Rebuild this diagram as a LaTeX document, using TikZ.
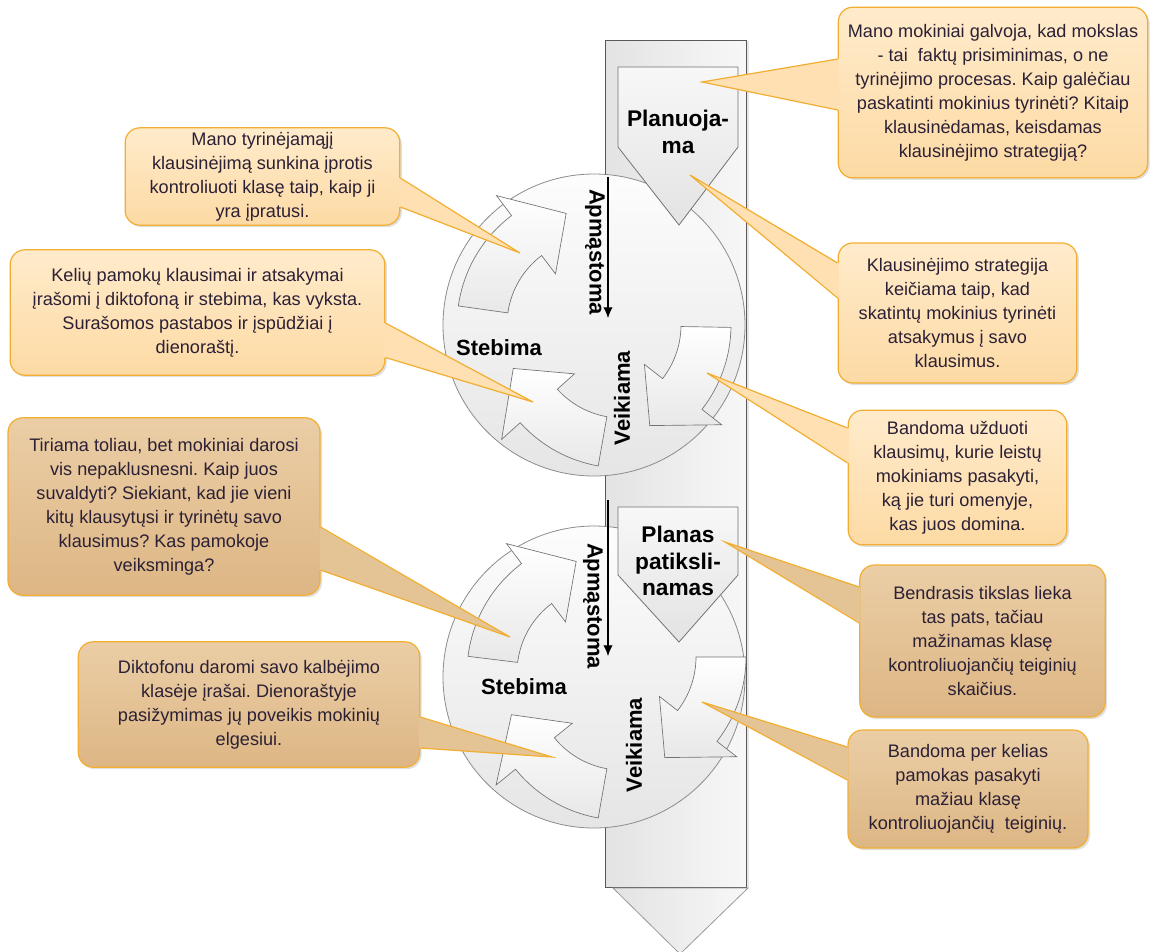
\documentclass[tikz,border=0pt]{standalone}
\usepackage{fontspec}
\setmainfont{Liberation Sans}
\usepackage{tikz}
\usetikzlibrary{positioning}
\usetikzlibrary{calc,shadows}
\usetikzlibrary{arrows.meta}
\definecolor{upTop}{HTML}{FFEBCB}
\definecolor{upBot}{HTML}{FDDAA4}
\definecolor{upPtr}{HTML}{FEE0B2}
\definecolor{loTop}{HTML}{EBCEA6}
\definecolor{loBot}{HTML}{DDB684}
\definecolor{loPtr}{HTML}{E4C394}
\definecolor{callEdge}{HTML}{F2AE30}
\definecolor{txtCol}{HTML}{2B2035}
\tikzset{>={Latex[length=8pt,width=7pt]}}
\tikzset{
  callout/.style={draw=callEdge, line width=0.9pt, rounded corners=11pt, align=center,
    inner sep=0pt, text=txtCol, font=\fontsize{13.6}{18}\selectfont,
    drop shadow={shadow xshift=1.5pt, shadow yshift=-1.5pt, opacity=0.25}},
  upcall/.style={callout, top color=upTop, bottom color=upBot},
  locall/.style={callout, top color=loTop, bottom color=loBot},
  pointer/.style={draw=callEdge, line width=0.9pt},
  lbl/.style={font=\fontsize{16.5}{20}\selectfont\bfseries, text=black},
  stagelbl/.style={font=\fontsize{17}{20}\selectfont\bfseries, text=black, align=center},
  shaft/.style={draw=black!65, line width=0.6pt, left color=black!11, right color=black!3},
  ringbg/.style={draw=black!45, line width=0.6pt, top color=black!1, bottom color=black!10},
  cycbody/.style={draw=black!55, line width=0.5pt, top color=white, bottom color=black!9},
  stage/.style={draw=black!55, line width=0.6pt, top color=black!3, bottom color=black!11},
  pics/cycarrow/.style 2 args={code={
    \draw[cycbody] (#1:137) arc[start angle=#1, end angle=#2, radius=137]
      -- (#2:162) -- ({#2-23}:115) -- (#2:64) -- (#2:87)
      arc[start angle=#2, end angle=#1, radius=87] -- cycle;
  }}
}

\begin{document}
\frenchspacing
\begin{tikzpicture}[x=0.75pt, y=-0.75pt]
\useasboundingbox (0,0) rectangle (1161,951);

% Big downward arrow
\draw[shaft, drop shadow={shadow xshift=2pt, shadow yshift=-1pt, opacity=0.2}] (605,40) rectangle (746,887);
\draw[shaft, draw=black!40] (613,888) -- (748,888) -- (680,954) -- cycle;

% Upper cycle
\coordinate (cU) at (594,325);
\draw[ringbg] (cU) circle (151);
\pic[yscale=-1] at (cU) {cycarrow={172}{127}};
\pic[yscale=-1] at (622,331) {cycarrow={260}{222}};
\pic[yscale=-1] at (cU) {cycarrow={-1}{-38}};

% Planning stage
\draw[stage] (618,67) -- (738,67) -- (738,147) -- (679,225) -- (618,147) -- cycle;
\node[stagelbl] (planU) at (678,132) {Planuoja-\\ma};

% Labels and arrow
\node[lbl, rotate=-90] (apmU) at (595,252) {Apmąstoma};
\node[lbl] (stebU) at (499,348) {Stebima};
\node[lbl, rotate=90] (veikU) at (622,398) {Veikiama};
\coordinate (aU1) at (608,177);
\coordinate (aU2) at (608,318);
\draw[->, line width=0.8pt] (aU1) -- (aU2);

% Lower cycle
\coordinate (cL) at (594,677);
\draw[ringbg] (cL) circle (151);
\pic[yscale=-1] at (604,673) {cycarrow={173}{127}};
\pic[yscale=-1] at (622,683) {cycarrow={260}{219}};
\pic[yscale=-1] at (609,657) {cycarrow={0}{-38}};

% Refined plan
\draw[stage] (618,507) -- (738,507) -- (738,575) -- (679,642) -- (618,575) -- cycle;
\node[stagelbl] (planL) at (678,561) {Planas\\patiksli-\\namas};

\node[lbl, rotate=-90] (apmL) at (593,606) {Apmąstoma};
\node[lbl] (stebL) at (524,687) {Stebima};
\node[lbl, rotate=90] (veikL) at (634,745) {Veikiama};
\coordinate (aL1) at (608,500);
\coordinate (aL2) at (608,656);
\draw[->, line width=0.8pt] (aL1) -- (aL2);

% Callouts, first cycle
\node[upcall, minimum width=232pt, minimum height=128pt] (mokslas) at (993,92.5)
  {Mano mokiniai galvoja, kad mokslas\\- tai\ \ faktų prisiminimas, o ne\\tyrinėjimo procesas. Kaip galėčiau\\paskatinti mokinius tyrinėti? Kitaip\\klausinėdamas, keisdamas\\klausinėjimo strategiją?};
\node[upcall, minimum width=206pt, minimum height=73pt] (iprotis) at (262.5,176.5)
  {Mano tyrinėjamąjį\\klausinėjimą sunkina įprotis\\kontroliuoti klasę taip, kaip ji\\yra įpratusi.};
\node[upcall, minimum width=281pt, minimum height=94pt] (keliu) at (197.5,312.5)
  {Kelių pamokų klausimai ir atsakymai\\įrašomi į diktofoną ir stebima, kas vyksta.\\Surašomos pastabos ir įspūdžiai į\\dienoraštį.};
\node[upcall, minimum width=179pt, minimum height=105pt] (strategija) at (957.5,313)
  {Klausinėjimo strategija\\keičiama taip, kad\\skatintų mokinius tyrinėti\\atsakymus į savo\\klausimus.};
\node[upcall, minimum width=164pt, minimum height=101pt] (uzduoti) at (957.5,477.5)
  {Bandoma užduoti\\klausimų, kurie leistų\\mokiniams pasakyti,\\ką jie turi omenyje,\\kas juos domina.};

% Callouts, second cycle
\node[locall, minimum width=234pt, minimum height=133pt] (toliau) at (164,506.5)
  {Tiriama toliau, bet mokiniai darosi\\vis nepaklusnesni. Kaip juos\\suvaldyti? Siekiant, kad jie vieni\\kitų klausytųsi ir tyrinėtų savo\\klausimus? Kas pamokoje\\veiksminga?};
\node[locall, minimum width=256pt, minimum height=94pt] (irasai) at (249,704.5)
  {Diktofonu daromi savo kalbėjimo\\klasėje įrašai. Dienoraštyje\\pasižymimas jų poveikis mokinių\\elgesiui.};
\node[locall, minimum width=184pt, minimum height=114pt] (tikslas) at (982.5,641)
  {Bendrasis tikslas lieka\\tas pats, tačiau\\mažinamas klasę\\kontroliuojančių teiginių\\skaičius.};
\node[locall, minimum width=180pt, minimum height=88.5pt] (teiginiai) at (968,789)
  {Bandoma per kelias\\pamokas pasakyti\\mažiau klasę\\kontroliuojančių\ \ teiginių.};

% Pointer tips
\coordinate (tMokslas) at (702,82);
\coordinate (tIprotis) at (520,253);
\coordinate (tKeliu) at (533,402);
\coordinate (tStrateg) at (690,175);
\coordinate (tUzduoti) at (707,373);
\coordinate (tToliau) at (510,637);
\coordinate (tIrasai) at (552,757);
\coordinate (tTikslas) at (725,542);
\coordinate (tTeigin) at (702,702);

% Pointers
\foreach \nm/\sd/\dx/\ya/\yb/\tp/\ptrcol in {
  mokslas/west/1.2/-33.5/17.5/tMokslas/upPtr,
  iprotis/east/-1.2/1.5/30.5/tIprotis/upPtr,
  keliu/east/-1.2/10.5/45/tKeliu/upPtr,
  strategija/west/1.2/-50/-15/tStrateg/upPtr,
  uzduoti/west/1.2/-49.5/-14.5/tUzduoti/upPtr,
  toliau/east/-1.2/20.5/63.5/tToliau/loPtr,
  irasai/east/-1.2/12.5/43.5/tIrasai/loPtr,
  tikslas/west/1.2/-54/-18/tTikslas/loPtr,
  teiginiai/west/1.2/-42/-9/tTeigin/loPtr}
{
  \fill[fill=\ptrcol] ($(\nm.\sd)+(\dx,\ya)$) -- (\tp) -- ($(\nm.\sd)+(\dx,\yb)$) -- cycle;
  \draw[pointer] ($(\nm.\sd)+(0,\ya)$) -- (\tp) -- ($(\nm.\sd)+(0,\yb)$);
}

\end{tikzpicture}
\end{document}
